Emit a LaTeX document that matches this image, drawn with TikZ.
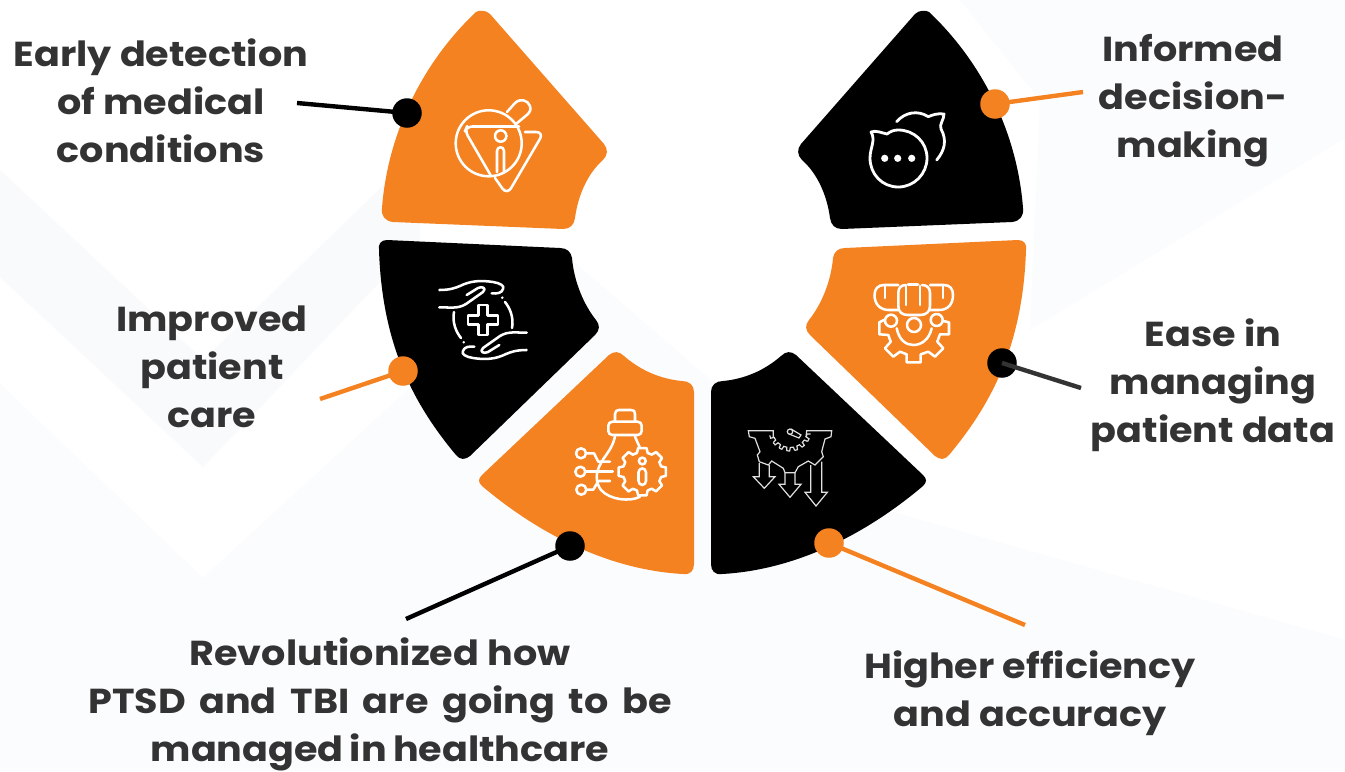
\documentclass[tikz,border=0pt]{standalone}
\usepackage{fontspec}
\usetikzlibrary{calc}
\setmainfont[BoldFont={Poppins Bold},BoldFeatures={FakeStretch=1.1}]{Poppins}
\definecolor{org}{HTML}{F58220}
\definecolor{txt}{HTML}{333333}
\definecolor{bgband}{HTML}{F9FAFB}
\definecolor{bglow}{HTML}{FBFCFD}
\tikzset{
  lab/.style={text=txt,align=center,inner sep=0pt,font=\fontsize{26}{36}\selectfont\bfseries},
  dotnode/.style={circle,minimum size=29.5*0.75pt,inner sep=0pt,fill=#1},
  conn/.style={line width=3.3pt,draw=#1},
  ico/.style={draw=white,line width=1.9pt,line cap=round,line join=round,fill=none},
  icothin/.style={draw=white!88!black,line width=0.9pt,line join=miter,fill=none},
  mirror/.style={shift={(1405,0)},xscale=-1}
}
\newcommand{\segA}{(476,12) .. controls (479,10) and (486,10) .. (490,14) -- (604,144) .. controls (608,149) and (608,155) .. (603,160) .. controls (588,173) and (578,195) .. (575,218) .. controls (574,225) and (570,229) .. (563,229) -- (393,222) .. controls (385,221) and (381,216) .. (382,208) .. controls (388,130) and (425,60) .. (476,12) -- cycle}
\newcommand{\segB}{(379,250) .. controls (378,244) and (381,240) .. (387,240) -- (560,248) .. controls (567,248) and (571,252) .. (572,258) .. controls (574,282) and (584,305) .. (596,320) .. controls (600,325) and (600,330) .. (595,335) -- (470,456) .. controls (465,460) and (460,460) .. (456,455) .. controls (410,400) and (382,340) .. (379,250) -- cycle}
\newcommand{\segC}{(609,355) .. controls (614,351) and (619,351) .. (624,356) .. controls (640,370) and (660,379) .. (682,381) .. controls (689,381) and (694,385) .. (694,392) -- (694,564) .. controls (694,571) and (690,575) .. (683,574) .. controls (610,570) and (540,535) .. (482,486) .. controls (478,482) and (478,479) .. (482,475) -- (609,355) -- cycle}
\begin{document}
\begin{tikzpicture}[x=0.75pt,y=-0.75pt]
\useasboundingbox (0,0) rectangle (1345,771);
\fill[white] (0,0) rectangle (1345,771);
% background chevrons
\fill[bglow] (0,384) -- (203,578) -- (560,250) -- (850,500) -- (1345,640) -- (1345,771) -- (0,771) -- cycle;
\fill[bgband] (0,170) -- (203,360) -- (420,150) -- (420,240) -- (203,467) -- (0,277) -- cycle;
\fill[bglow] (960,0) -- (1345,0) -- (1345,138) -- (1030,330) -- (1040,100) -- cycle;
% segments
\fill[org] \segA;
\fill[black] \segB;
\fill[org] \segC;
\begin{scope}[mirror]
\fill[black] \segA;
\fill[org] \segB;
\fill[black] \segC;
\end{scope}
% connectors
\coordinate (e1) at (297,103);
\coordinate (e2) at (320,399);
\coordinate (e3) at (406,619);
\coordinate (e4) at (1083,92);
\coordinate (e5) at (1081,388);
\coordinate (e6) at (1025,625);
\node[dotnode=black] (d1) at (407,113) {};
\node[dotnode=org] (d2) at (403,371) {};
\node[dotnode=black] (d3) at (570,546) {};
\node[dotnode=org] (d4) at (995,104) {};
\node[dotnode=black] (d5) at (1002,363) {};
\node[dotnode=org] (d6) at (829,543) {};
\draw[conn=black] (d1.center) -- (e1);
\draw[conn=org] (d2.center) -- (e2);
\draw[conn=black] (d3.center) -- (e3);
\draw[conn=org] (d4.center) -- (e4);
\draw[conn=txt] (d5.center) -- (e5);
\draw[conn=org] (d6.center) -- (e6);
% labels
\node[lab] (t1) at (161,101) {Early detection\\of medical\\conditions};
\node[lab] (t2) at (212,367) {Improved\\patient\\care};
\node[lab] (t3) at (380,704) {Revolutionized how\\{\spaceskip=10.2pt PTSD and TBI are going to be}\\{\spaceskip=4.6pt managed in healthcare}};
\node[lab] (t4) at (1193,101) {Informed\\decision-\\making};
\node[lab] (t5) at (1213,385) {Ease in\\managing\\patient data};
\node[lab] (t6) at (1030,693) {Higher efficiency\\and accuracy};
% icon 1
\draw[ico] (488.7,143.3) circle (33);
\draw[ico] (507,112) -- (515,103) .. controls (520,98) and (528,100) .. (530,106) .. controls (531,110) and (530,112) .. (528,114) -- (516,124);
\draw[ico,rounded corners=4] (490.5,175) -- (465,131) -- (467,126.5) -- (519,126.5);
\draw[ico,rounded corners=6] (525,132) -- (544,132) -- (507,195) -- (495,178);
\draw[ico] (500.7,136) circle (5.7);
\draw[ico] (497,172) -- (497,151) .. controls (497,146) and (504,146) .. (504,151) -- (504,172);
% icon 2
\foreach \r in {0,180}{
\begin{scope}[rotate around={\r:(483,320)}]
\draw[ico] (439.3,290) .. controls (450,290) and (455,288) .. (460,286) .. controls (470,281) and (480,280) .. (493,282) .. controls (500,283) and (505,286) .. (503,289) .. controls (502,293) and (497,294) .. (491.7,293.3);
\draw[ico] (439.3,307.3) .. controls (450,307.3) and (458,309) .. (466,304) -- (483,292) .. controls (487,288) and (482,286) .. (478,288) -- (466.7,295);
\draw[ico] (505,302) .. controls (510,308) and (514,318) .. (512,328);
\fill[white] (502.3,297.7) circle (1.4);
\end{scope}}
\draw[ico] (478.3,305) -- (487.7,305) -- (487.7,315.3) -- (498,315.3) -- (498,324.7) -- (487.7,324.7) -- (487.7,335) -- (478.3,335) -- (478.3,324.7) -- (468,324.7) -- (468,315.3) -- (478.3,315.3) -- cycle;
% icon 3
\draw[ico] (615,421.7) -- (615,414) .. controls (615,411) and (617,410) .. (619,410) -- (631,410) .. controls (634,410) and (635,411) .. (635,414) -- (635,421.7);
\draw[ico,rounded corners=3] (608.3,421.7) rectangle (641.7,435);
\draw[ico] (615,436.7) .. controls (612,450) and (604,456) .. (600,465) .. controls (596,472) and (595,482) .. (601,490) .. controls (610,500) and (630,502) .. (640,496.7);
\draw[ico] (635,436.7) -- (640,448);
\foreach \a in {0,45,...,315}{
\draw[ico] ($(642.3,471.7)+(\a-10:24)$) -- ($(642.3,471.7)+(\a+10:24)$) -- ($(642.3,471.7)+(\a+16:19.5)$) -- ($(642.3,471.7)+(\a+29:19.5)$) -- ($(642.3,471.7)+(\a+35:24)$);
}
\draw[ico] (642.3,461) circle (3.4);
\draw[ico,rounded corners=3] (638.5,468.3) rectangle (646,485);
\draw[ico] (581,453.3) circle (5);
\draw[ico] (580.3,471.7) circle (5);
\draw[ico] (581.3,489.7) circle (5);
\draw[ico] (586,453.3) -- (594,453.3) -- (598.3,461.7) -- (610,461.7);
\draw[ico] (585.3,471.7) -- (612.7,471.7);
\draw[ico] (586.3,489.7) -- (593.3,489.7) -- (598.3,481) -- (610,481);
% icon 4
\draw[ico,line width=2.1pt] (870,158) .. controls (870,174) and (882,187) .. (898.3,187) .. controls (914,187) and (927,174) .. (927,158) .. controls (927,142) and (914,130) .. (898.3,130) .. controls (894,130) and (891,131) .. (887,134) .. controls (882,133) and (876,130) .. (871,132) .. controls (876,140) and (870,148) .. (870,158);
\draw[ico,line width=2.1pt] (896.7,121.7) .. controls (905,112) and (918,110) .. (928.3,116.7) .. controls (932,115) and (938,113) .. (944,114) .. controls (944,120) and (939,124) .. (941,129) .. controls (947,140) and (945,150) .. (936.7,160);
\foreach \x in {884.7,897.7,911.7}{\fill[white] (\x,158.3) circle (3.6);}
% icon 5
\draw[ico] (898.3,285) -- (884,285) .. controls (878,285) and (874.5,289) .. (874.5,295) .. controls (874.5,304) and (880,310) .. (889,310) -- (898.3,310);
\draw[ico] (930,285) -- (944,285) .. controls (950,285) and (953,289) .. (953,295) .. controls (953,304) and (948,310) .. (939,310) -- (930,310);
\draw[ico] (906,285) .. controls (901,285) and (898.3,288) .. (898.3,293) -- (898.3,306) .. controls (898.3,312) and (902,315) .. (908,315) -- (920,315) .. controls (926,315) and (930,312) .. (930,306) -- (930,293) .. controls (930,288) and (927,285) .. (922,285);
\draw[ico] (908,284.5) -- (918,284.5);
\draw[ico] (885,286) -- (885,298);
\draw[ico] (906,286) -- (906,305);
\draw[ico] (920,286) -- (920,305);
\draw[ico] (943,286) -- (943,298);
\draw[ico] (891,320.7) circle (6);
\draw[ico] (914,325) circle (7);
\draw[ico] (936.7,320) circle (6);
\draw[ico] (896.7,328.3) .. controls (899,340) and (906,345) .. (913.3,345) .. controls (921,345) and (929,340) .. (931.7,328.3);
\draw[ico] (884,320) -- (879.3,322.3) -- (879.3,334.3) -- (888.3,335) -- (890.7,341.7) -- (885,348.3) -- (893.3,356.7) -- (900,351.7) -- (906.7,354.3) -- (906.7,362.3) -- (920.7,362.3) -- (920.7,354.3) -- (928.3,351.7) -- (935,356.7) -- (943.3,348.3) -- (937.3,341.7) -- (940,334.3) -- (949,334.3) -- (949,322.3) -- (943.3,321);
% icon 6
\draw[icothin] (773.3,437) -- (773.3,430.7) -- (748.3,430.7) -- (749.3,436.7) -- (755,438.3) -- (760,451.7) -- (757.3,455) -- (759.3,461.7) -- (768.3,465) -- (771.7,461) -- (783.3,468.3) -- (785,472.7) -- (795,472.7) -- (798.3,466.7) -- (808.3,461) -- (815,465) -- (823.3,456.7) -- (821.7,451.7) -- (825,439) -- (831,436.7) -- (831.7,430.7) -- (806.7,430.7) -- (806,437);
\foreach \a in {18,40,...,150}{
\draw[icothin] ($(790,430)+(\a-7:21)$) -- ($(790,430)+(\a-5:17.5)$) -- ($(790,430)+(\a+5:17.5)$) -- ($(790,430)+(\a+7:21)$) -- ($(790,430)+(\a+15:21)$);
}
\draw[icothin] (790,431.7) circle (2.7);
\draw[icothin] (791,429) -- (801,435) -- (799,438) -- (789,434);
\draw[icothin] (759.3,463) -- (759.3,476.7) -- (753.3,476.7) -- (764.3,488.3) -- (775,476.7) -- (769.3,476.7) -- (769.3,465);
\draw[icothin] (785,473) -- (785,484.3) -- (779,484.3) -- (790,497.3) -- (801,484.3) -- (795,484.3) -- (795,473);
\draw[icothin] (810.7,465) -- (810.7,492.3) -- (805,492.3) -- (816,506) -- (827.3,492.3) -- (821.7,492.3) -- (821.7,461.7);
\end{tikzpicture}
\end{document}
